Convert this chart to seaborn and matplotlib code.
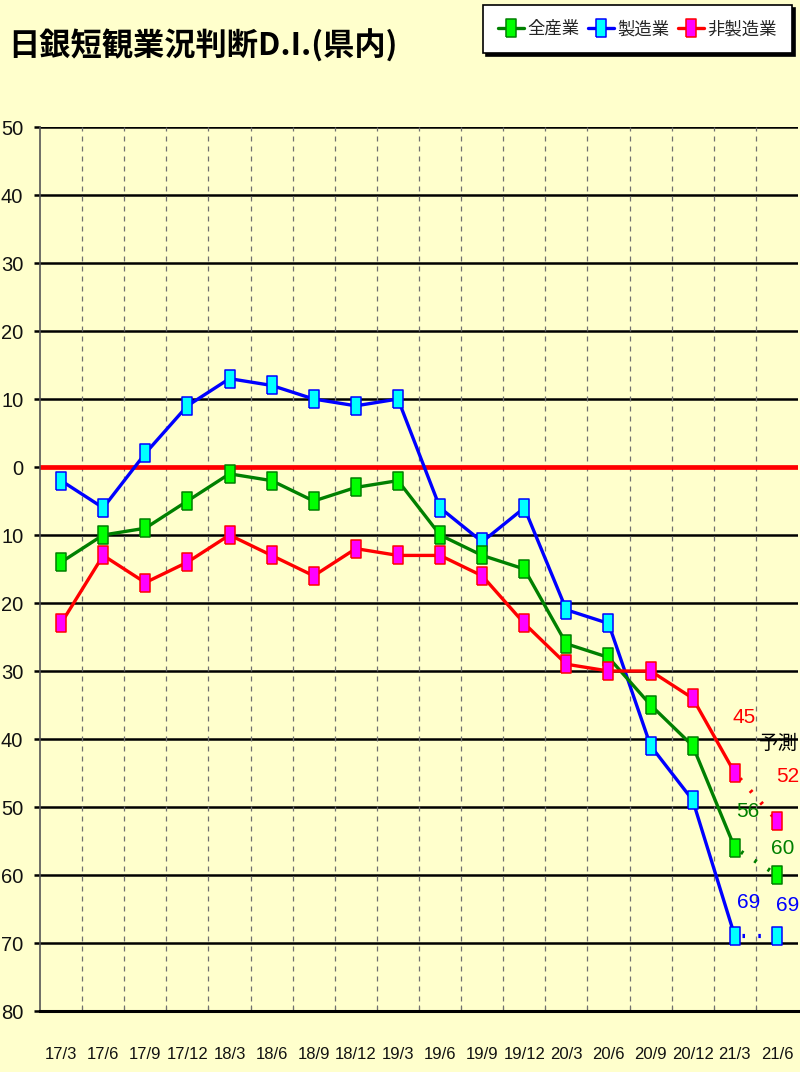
import numpy as np
import pandas as pd
import matplotlib
matplotlib.use("Agg")
import matplotlib.pyplot as plt
from matplotlib.lines import Line2D
from matplotlib.ticker import FixedLocator, FuncFormatter
import seaborn as sns

# ---------------- data ----------------
quarters = ["17/3", "17/6", "17/9", "17/12", "18/3", "18/6", "18/9", "18/12", "19/3",
            "19/6", "19/9", "19/12", "20/3", "20/6", "20/9", "20/12", "21/3", "21/6"]
all_industries = [-14, -10, -9, -5, -1, -2, -5, -3, -2, -10, -13, -15, -26, -28, -35, -41, -56, -60]
manufacturing = [-2, -6, 2, 9, 13, 12, 10, 9, 10, -6, -11, -6, -21, -23, -41, -49, -69, -69]
non_manufacturing = [-23, -13, -17, -14, -10, -13, -16, -12, -13, -13, -16, -23, -29, -30, -30, -34, -45, -52]
series_names = ["全産業", "製造業", "非製造業"]
title_text = "日銀短観業況判断D.I.(県内)"
forecast_text = "予測"
y_ticks = [-80, -70, -60, -50, -40, -30, -20, -10, 0, 10, 20, 30, 40, 50]

# ---------------- styling ----------------
sns.set_theme(style="white")
plt.rcParams["font.family"] = ["Liberation Sans", "Noto Sans CJK JP", "DejaVu Sans"]
BG = "#FFFFCC"

df = pd.DataFrame({
    "pos": np.arange(len(quarters)),
    "quarter": quarters,
    series_names[0]: all_industries,
    series_names[1]: manufacturing,
    series_names[2]: non_manufacturing,
})
n_actual = len(quarters) - 1  # last point is a forecast

styles = {
    series_names[1]: dict(line="#0000FF", face="#00FFFF", edge="#0000FF"),
    series_names[0]: dict(line="#008000", face="#00FF00", edge="#008000"),
    series_names[2]: dict(line="#FF0000", face="#FF00FF", edge="#FF0000"),
}
rect = [(-0.5, -1), (0.5, -1), (0.5, 1), (-0.5, 1), (-0.5, -1)]

fig = plt.figure(figsize=(8, 10.72), dpi=100, facecolor=BG)
ax = fig.add_axes([0.05, 0.0569, 0.9475, 0.8246])
ax.set_facecolor(BG)

# horizontal grid
for yv in y_ticks:
    if yv == 0:
        continue
    ax.axhline(yv, color="black", lw=1.8, zorder=1)
ax.axhline(0, color="#FF0000", lw=3.4, zorder=1.5)
# vertical dashed separators
for k in range(1, len(quarters)):
    ax.axvline(k - 0.5, color="#707070", lw=0.9, ls=(0, (4, 4)), zorder=1)

order = [series_names[1], series_names[0], series_names[2]]
for name in order:
    st = styles[name]
    # forecast (dotted) segment
    sns.lineplot(data=df.iloc[n_actual - 1:], x="pos", y=name, ax=ax, color=st["line"],
                 lw=3.0, linestyle=(2, (0.6, 3.2)), marker=rect, markevery=[1], markersize=13,
                 markerfacecolor=st["face"], markeredgecolor=st["edge"], markeredgewidth=1.1,
                 legend=False, zorder=3)
    # actual segment
    sns.lineplot(data=df.iloc[:n_actual], x="pos", y=name, ax=ax, color=st["line"],
                 lw=2.4, marker=rect, markersize=13, markerfacecolor=st["face"],
                 markeredgecolor=st["edge"], markeredgewidth=1.1, legend=False, zorder=3)

# data labels for last two points
label_offsets = {
    series_names[2]: [(7, 40), (8, 32)],
    series_names[0]: [(9, 26), (4, 19)],
    series_names[1]: [(10, 24.5), (8, 22)],
}
for name, offs in label_offsets.items():
    for idx, off in zip([len(quarters) - 2, len(quarters) - 1], offs):
        v = df[name].iloc[idx]
        ax.annotate(f"{abs(v)}", xy=(df["pos"].iloc[idx], v), xytext=off,
                    textcoords="offset points", ha="center", va="center",
                    color=styles[name]["line"], fontsize=15, zorder=5)

ax.text(16.58, -40.6, forecast_text, ha="left", va="center", fontsize=14, color="black",
        family=["Noto Sans CJK JP", "DejaVu Sans"], zorder=5, clip_on=False)

ax.set_xlim(-0.5, len(quarters) - 0.5)
ax.set_ylim(-80, 50)
ax.xaxis.set_major_locator(FixedLocator(df["pos"].tolist()))
ax.set_xticklabels(quarters)
ax.xaxis.set_minor_locator(FixedLocator([k - 0.5 for k in range(1, len(quarters))]))
ax.tick_params(axis="x", which="major", length=0, pad=26, labelsize=12, labelcolor="#111111")
ax.tick_params(axis="x", which="minor", direction="in", length=4, width=0.8, color="#707070", bottom=True)
ax.yaxis.set_major_locator(FixedLocator(y_ticks))
ax.yaxis.set_major_formatter(FuncFormatter(lambda v, p: f"{abs(int(round(v)))}"))
ax.tick_params(axis="y", which="major", length=4, width=1.8, color="black", pad=8,
               labelsize=14.5, labelcolor="#111111", left=True)
ax.set_xlabel("")
ax.set_ylabel("")
for s in ["top", "right"]:
    ax.spines[s].set_visible(False)
ax.spines["left"].set_color("#555555")
ax.spines["left"].set_linewidth(1.2)
ax.spines["bottom"].set_color("black")
ax.spines["bottom"].set_linewidth(2.2)

# title
fig.text(0.01, 0.957, title_text, ha="left", va="center", fontsize=22.5, fontweight="bold",
         family=["Noto Sans CJK JP", "DejaVu Sans"], color="black")

# legend
handles = []
for name in series_names:
    st = styles[name]
    handles.append(Line2D([], [], color=st["line"], lw=2.4, marker=rect, markersize=13,
                          markerfacecolor=st["face"], markeredgecolor=st["edge"], markeredgewidth=1.1))
leg = fig.legend(handles, series_names, loc="upper right", bbox_to_anchor=(0.99, 0.995), ncol=3,
                 frameon=True, fancybox=False, edgecolor="black", facecolor="white", framealpha=1,
                 shadow={"color": "black", "alpha": 1}, handlelength=1.5, handletextpad=0.2,
                 columnspacing=0.5, borderpad=0.85, borderaxespad=0,
                 prop={"family": ["Noto Sans CJK JP"], "size": 12.5})
leg.get_frame().set_linewidth(1.2)

fig.savefig("out.png", dpi=100, facecolor=BG)
